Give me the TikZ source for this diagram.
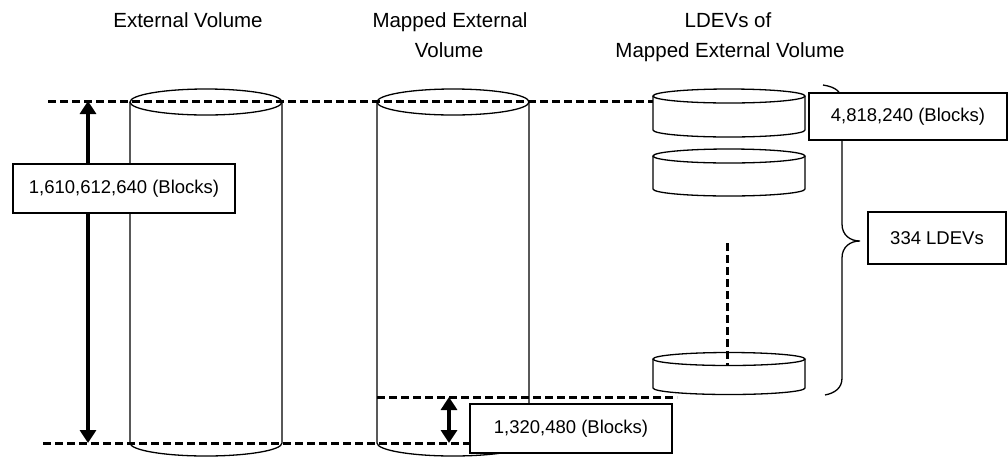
\documentclass[tikz,border=0pt]{standalone}
\usepackage{fontspec}
\setmainfont{Liberation Sans}
\usetikzlibrary{arrows.meta,backgrounds}
\tikzset{
  x=1pt, y=-1pt,
  cyl/.style={line width=1.3pt},
  title/.style={font=\fontsize{20.5}{24}\selectfont, anchor=base, inner sep=0pt},
  lbl/.style={draw, fill=white, line width=1.3pt, inner sep=0pt,
              font=\fontsize{18.5}{22}\selectfont},
  guide/.style={line width=3pt, dash pattern=on 8pt off 4pt},
  dim/.style={line width=3.4pt, {Triangle[width=16pt,length=13pt]}-{Triangle[width=16pt,length=13pt]}},
  bracestyle/.style={line width=1.3pt},
  pics/can/.style n args={3}{code={
    \draw[cyl,fill=white] (-#1,0) -- (-#1,#3)
      arc[start angle=180,end angle=360,x radius=#1pt,y radius=#2pt] -- (#1,0);
    \draw[cyl] (0,0) ellipse[x radius=#1pt,y radius=#2pt];
  }}
}
\begin{document}
\begin{tikzpicture}
\useasboundingbox (0,0) rectangle (1008,456);
\clip (0,0) rectangle (1008,456);

% titles
\node[title] (tA)  at (188,27) {External Volume};
\node[title] (tB1) at (450,27) {Mapped External};
\node[title] (tB2) at (449,57) {Volume};
\node[title] (tC1) at (728,27) {LDEVs of};
\node[title] (tC2) at (730,57) {Mapped External Volume};

% label boxes
\node[lbl, minimum width=222pt, minimum height=49pt] (lblA) at (124,188.5) {1,610,612,640 (Blocks)};
\node[lbl, minimum width=202pt, minimum height=49pt] (lblB) at (571,428.5) {1,320,480 (Blocks)};
\node[lbl, minimum width=198pt, minimum height=47pt] (lblC) at (908,116.5) {4,818,240 (Blocks)};
\node[lbl, minimum width=138pt, minimum height=52pt] (lblD) at (937,238) {334 LDEVs};

% named points
\coordinate (topL)  at (48,101);
\coordinate (botL)  at (43,443);
\coordinate (arrT)  at (88,101);
\coordinate (arrB)  at (88,443);
\coordinate (mapL)  at (377,397);
\coordinate (mapR)  at (677,397);
\coordinate (smT)   at (449,397);
\coordinate (smB)   at (449,443);
\coordinate (ldevL) at (653,101);
\coordinate (vdT)   at (727,243);
\coordinate (vdB)   at (727,365);
\coordinate (brT)   at (823,85);
\coordinate (brTip) at (860,241);
\coordinate (brB)   at (825,395);

\begin{scope}[on background layer]
  % cylinders
  \pic at (206,102) {can={76}{13}{341}};
  \pic at (453,102) {can={76}{13}{341}};
  % LDEV disks
  \pic at (729,96)  {can={76}{7}{34}};
  \pic at (729,156) {can={76}{7}{33}};
  \pic at (729,359) {can={76}{6.5}{29}};

  % guide lines
  \draw[guide] (topL) -- (ldevL);
  \draw[guide] (botL) -- (lblB.west |- botL);
  \draw[guide] (mapL) -- (mapR);
  \draw[guide] (vdT) -- (vdB);

  % dimension arrows
  \draw[dim] (arrT) -- (arrB);
  \draw[dim] (smT) -- (smB);

  % brace
  \draw[bracestyle] (brT) .. controls (836,87) and (842,92) .. (842,102)
    -- (842,224) .. controls (842,235) and (850,241) .. (brTip)
    .. controls (850,241) and (842,247) .. (842,258)
    -- (842,378) .. controls (842,388) and (835,393) .. (brB);
\end{scope}
\end{tikzpicture}
\end{document}
